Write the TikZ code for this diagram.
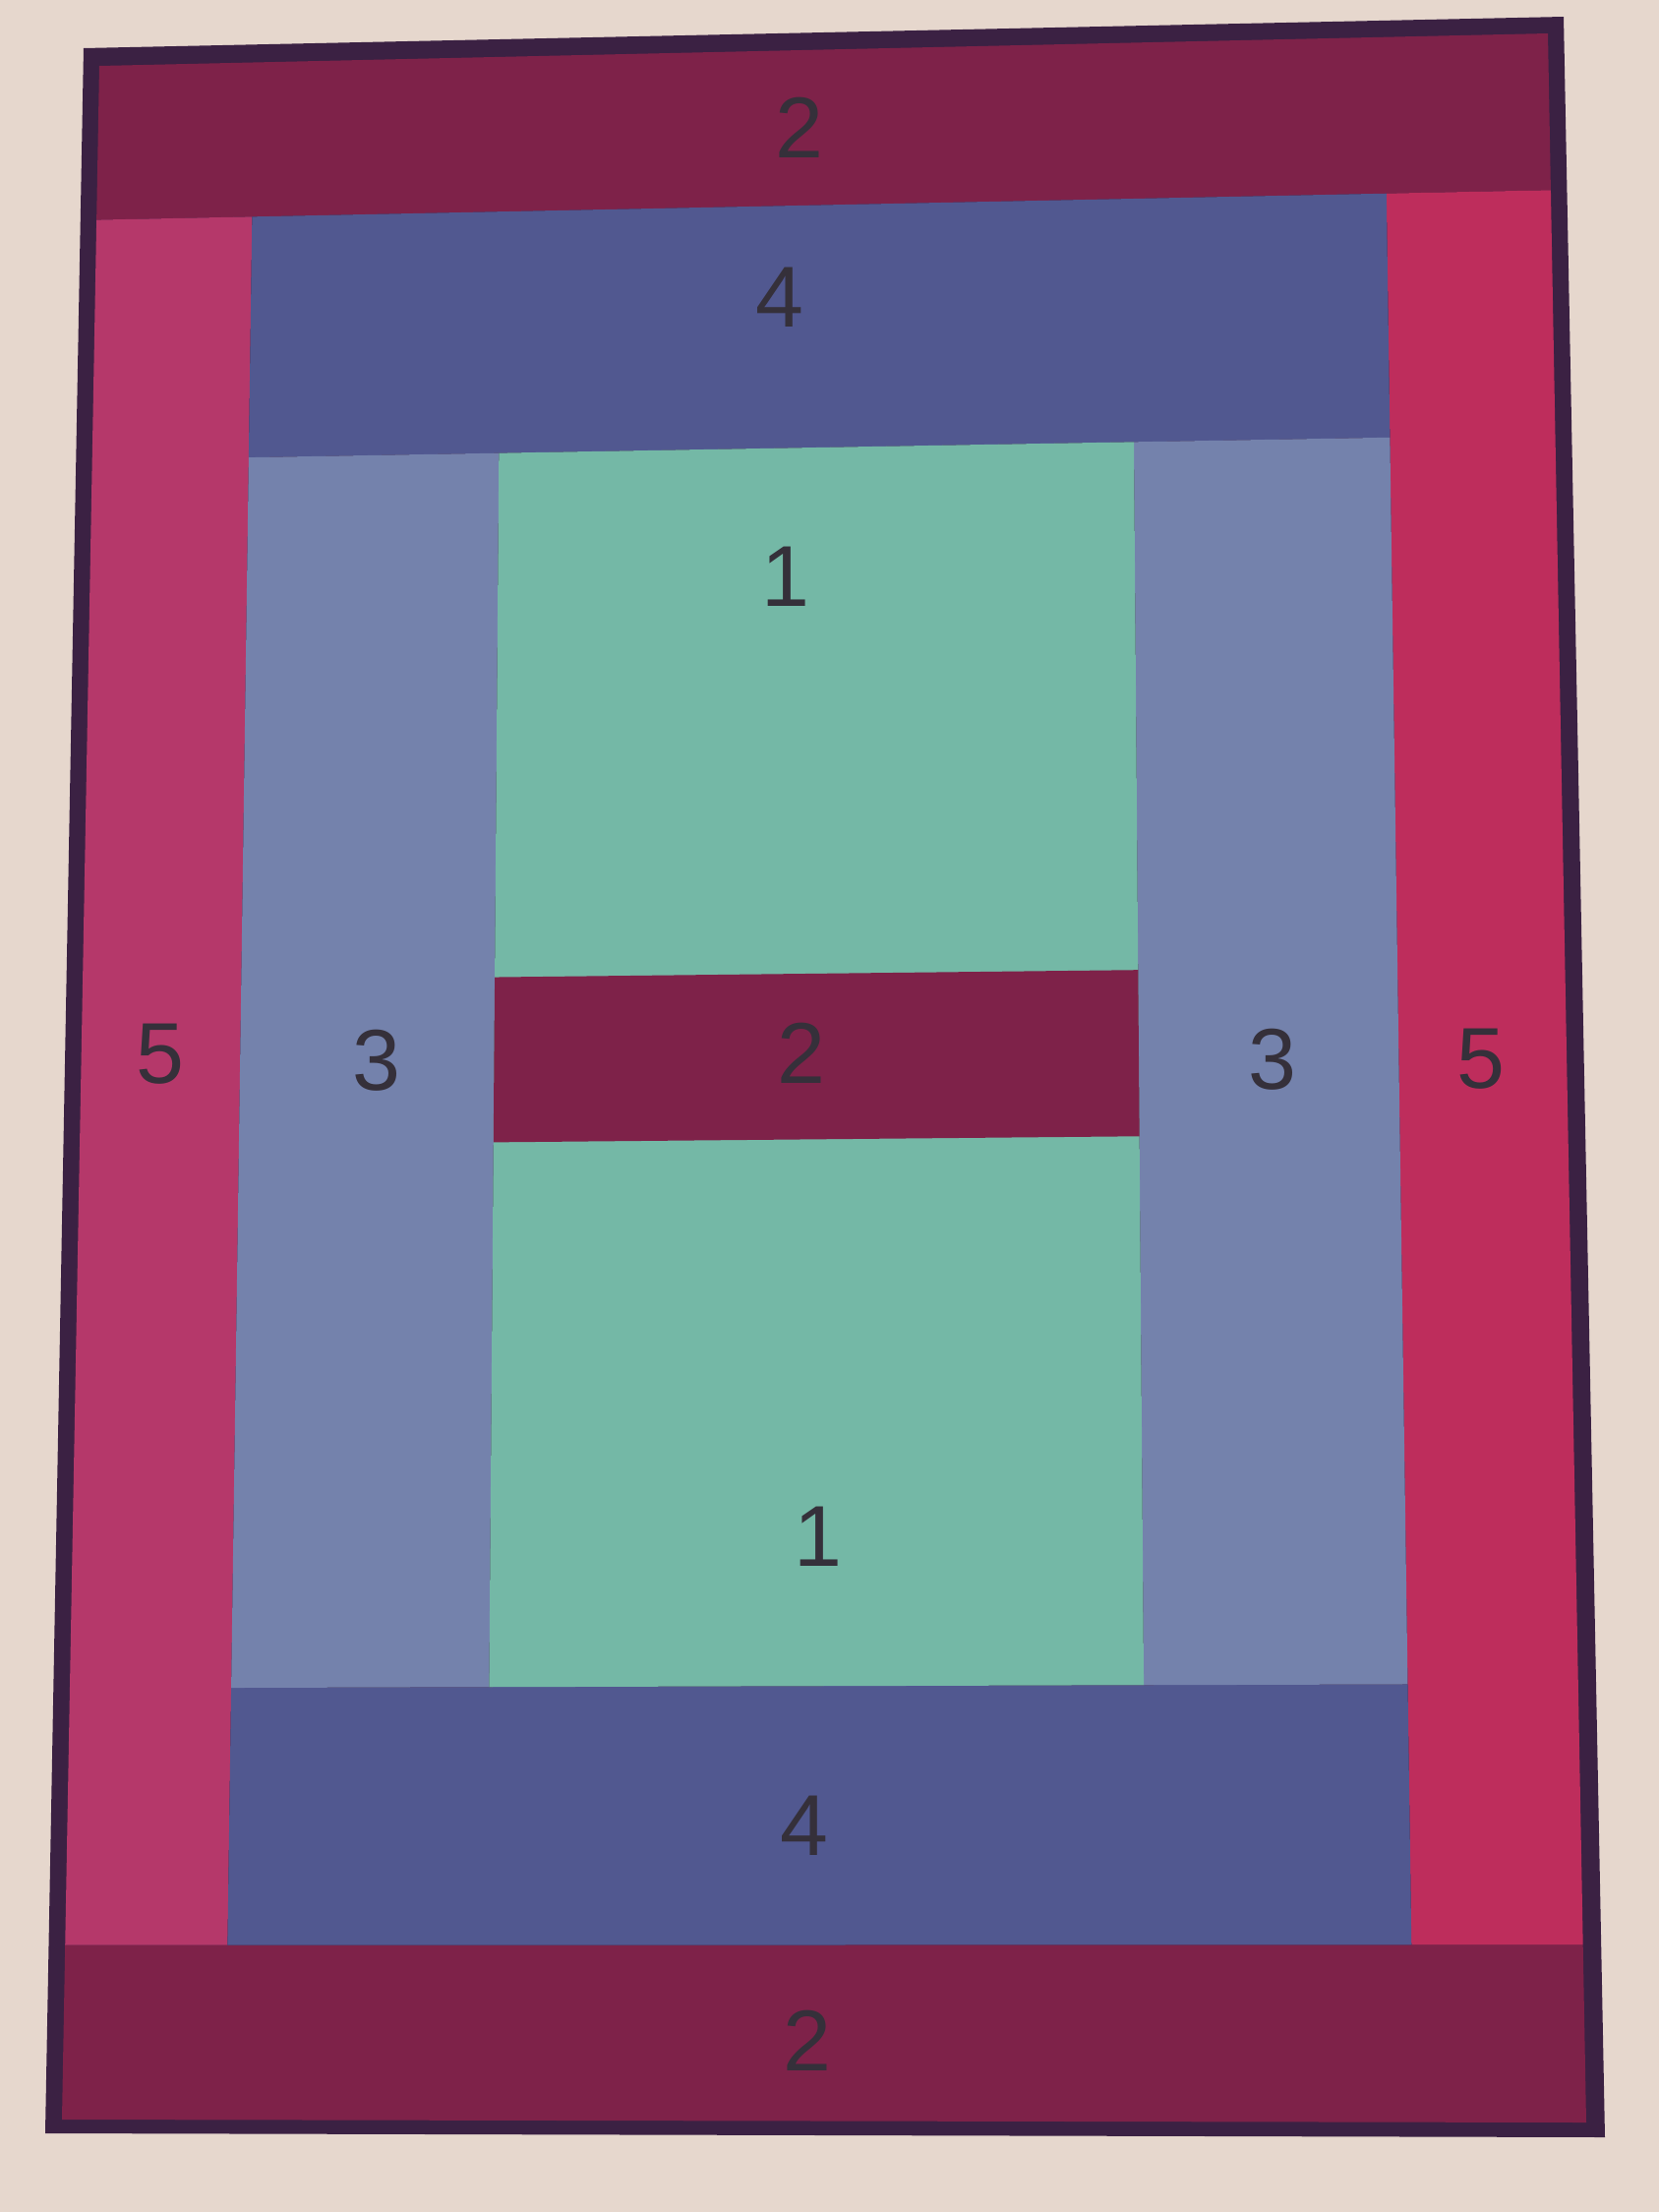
\documentclass[tikz,border=0pt]{standalone}
\usepackage{fontspec}
\setmainfont{Liberation Sans}
\usetikzlibrary{calc}
\definecolor{bgpaper}{HTML}{E6D7CD}
\definecolor{frameline}{HTML}{3B2143}
\definecolor{wine}{HTML}{7E2249}
\definecolor{roseleft}{HTML}{B5386A}
\definecolor{roseright}{HTML}{BE2D5C}
\definecolor{slateblue}{HTML}{515890}
\definecolor{periwinkle}{HTML}{7482AC}
\definecolor{mint}{HTML}{74B8A6}
\definecolor{numgrey}{HTML}{35303A}
% one patch of the quilt, corners taken bilinear in the photo frame
\newcommand{\patch}[5]{%
  \fill[#1] ($($(qTL)!#2!(qTR)$)!#3!($(qBL)!#2!(qBR)$)$)
    -- ($($(qTL)!#4!(qTR)$)!#3!($(qBL)!#4!(qBR)$)$)
    -- ($($(qTL)!#4!(qTR)$)!#5!($(qBL)!#4!(qBR)$)$)
    -- ($($(qTL)!#2!(qTR)$)!#5!($(qBL)!#2!(qBR)$)$) -- cycle;}
\begin{document}
\begin{tikzpicture}[x=0.1mm,y=-0.1mm,
    num/.style={text=numgrey,font=\fontsize{25pt}{30pt}\selectfont,inner sep=0pt}]
    \fill[bgpaper] (0,0) rectangle (1687,2249);
    \fill[frameline] (85,49) -- (1590,17) -- (1632,2173) -- (46,2169) -- cycle;
    \coordinate (qTL) at (101,67);
    \coordinate (qTR) at (1574,34);
    \coordinate (qBL) at (63,2155);
    \coordinate (qBR) at (1613,2158);
    \patch{wine}{0}{0}{1}{0.075}% top border
    \patch{wine}{0}{0.915}{1}{1}
    \patch{roseleft}{0}{0.075}{0.107}{0.915}
    \patch{roseright}{0.887}{0.075}{1}{0.915}
    \patch{slateblue}{0.107}{0.075}{0.887}{0.192}
    \patch{slateblue}{0.107}{0.79}{0.887}{0.915}
    \patch{periwinkle}{0.107}{0.192}{0.278}{0.79}
    \patch{periwinkle}{0.712}{0.192}{0.887}{0.79}
    \patch{mint}{0.278}{0.192}{0.712}{0.79}
    \patch{wine}{0.278}{0.446}{0.712}{0.526}% middle strip
    \node[num] (twotop) at (813,130) {2};
    \node[num] (fourtop) at (793,302) {4};
    \node[num] (onetop) at (799,586) {1};
    \node[num] (twomid) at (815,1071) {2};
    \node[num] (onebot) at (832,1562) {1};
    \node[num] (fourbot) at (818,1856) {4};
    \node[num] (twobot) at (821,2075) {2};
    \node[num] (fiveleft) at (163,1072) {5};
    \node[num] (threeleft) at (383,1078) {3};
    \node[num] (threeright) at (1294,1077) {3};
    \node[num] (fiveright) at (1506,1077) {5};
\end{tikzpicture}
\end{document}
